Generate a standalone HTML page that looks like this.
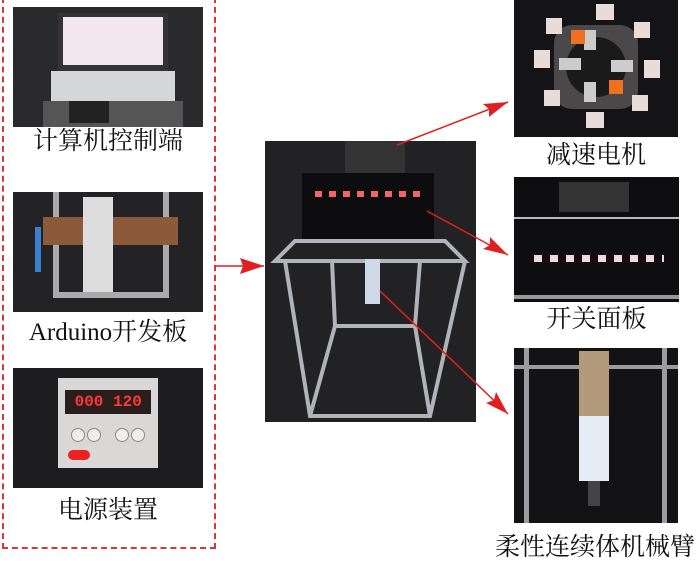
<!DOCTYPE html>
<html><head><meta charset="utf-8"><style>
body{margin:0;width:700px;height:560px;background:#fff;position:relative;overflow:hidden;font-family:"Liberation Serif","Noto Serif CJK SC",serif}
.p{position:absolute;background:#1c1b1e;overflow:hidden}
.l{position:absolute;font-size:25px;color:#111;text-align:center;line-height:1;white-space:nowrap}
</style></head><body>
<div style="position:absolute;left:2px;top:-3px;width:210px;height:548px;border:2px dashed #d8363a"></div>

<div class="p" style="left:13px;top:7px;width:190px;height:120px;background:#2a292c">
 <div style="position:absolute;left:45px;top:6px;width:110px;height:58px;background:#333;"></div>
 <div style="position:absolute;left:50px;top:10px;width:100px;height:48px;background:#f3e6ee"></div>
 <div style="position:absolute;left:38px;top:64px;width:124px;height:30px;background:#d5d6d8"></div>
 <div style="position:absolute;left:30px;top:94px;width:140px;height:26px;background:#555"></div>
 <div style="position:absolute;left:56px;top:94px;width:40px;height:22px;background:#222"></div>
</div>
<div class="l" style="left:13px;top:129px;width:190px">计算机控制端</div>

<div class="p" style="left:13px;top:192px;width:190px;height:120px;background:#232224">
 <div style="position:absolute;left:40px;top:0;width:6px;height:105px;background:#aaa"></div>
 <div style="position:absolute;left:150px;top:0;width:6px;height:105px;background:#aaa"></div>
 <div style="position:absolute;left:40px;top:100px;width:116px;height:6px;background:#aaa"></div>
 <div style="position:absolute;left:30px;top:25px;width:135px;height:28px;background:#8a5a3a"></div>
 <div style="position:absolute;left:70px;top:5px;width:30px;height:95px;background:#ddd"></div>
 <div style="position:absolute;left:22px;top:35px;width:6px;height:45px;background:#3b7fd0"></div>
</div>
<div class="l" style="left:13px;top:320px;width:190px">Arduino开发板</div>

<div class="p" style="left:13px;top:368px;width:190px;height:120px;background:#1d1c1f">
 <div style="position:absolute;left:45px;top:10px;width:100px;height:90px;background:#d9d8d6"></div>
 <div style="position:absolute;left:52px;top:22px;width:86px;height:24px;background:#2a1d1e;color:#ff3a30;font:bold 16px 'Liberation Mono',monospace;line-height:24px">&nbsp;000 120</div>
 <div style="position:absolute;left:58px;top:60px;width:12px;height:12px;border-radius:50%;background:#eee;border:1px solid #888"></div>
 <div style="position:absolute;left:74px;top:60px;width:12px;height:12px;border-radius:50%;background:#eee;border:1px solid #888"></div>
 <div style="position:absolute;left:102px;top:60px;width:12px;height:12px;border-radius:50%;background:#eee;border:1px solid #888"></div>
 <div style="position:absolute;left:118px;top:60px;width:12px;height:12px;border-radius:50%;background:#eee;border:1px solid #888"></div>
 <div style="position:absolute;left:55px;top:82px;width:22px;height:10px;border-radius:5px;background:#e22"></div>
</div>
<div class="l" style="left:13px;top:498px;width:190px">电源装置</div>

<div class="p" style="left:265px;top:141px;width:211px;height:281px;background:#222124">
 <div style="position:absolute;left:37px;top:32px;width:132px;height:66px;background:#0d0d0f"></div>
 <div style="position:absolute;left:80px;top:0;width:60px;height:32px;background:#333"></div>
 <div style="position:absolute;left:50px;top:50px;width:110px;height:6px;background:repeating-linear-gradient(90deg,#e66 0 7px,transparent 7px 14px)"></div>
 <svg width="211" height="281" style="position:absolute;left:0;top:0" fill="none" stroke="#b0b3b8" stroke-width="4">
  <path d="M10 120 L200 120 L180 100 L30 100 Z"/>
  <path d="M20 120 L45 275 L165 275 L200 120"/>
  <path d="M67 120 L70 185 L150 185 L155 120"/>
  <path d="M45 275 L70 185 M165 275 L150 185"/>
 </svg>
 <div style="position:absolute;left:100px;top:118px;width:15px;height:45px;background:#cfd8e6"></div>
</div>

<div class="p" style="left:514px;top:0;width:164px;height:137px;background:#141416">
 <div style="position:absolute;left:40px;top:25px;width:84px;height:84px;background:#4a4848;border-radius:18px"></div>
 <div style="position:absolute;left:52px;top:37px;width:60px;height:60px;background:#1a1a1a;border-radius:50%"></div>
 <div style="position:absolute;left:70px;top:30px;width:12px;height:20px;background:#ccc"></div>
 <div style="position:absolute;left:70px;top:82px;width:12px;height:20px;background:#ccc"></div>
 <div style="position:absolute;left:45px;top:58px;width:22px;height:12px;background:#ccc"></div>
 <div style="position:absolute;left:97px;top:60px;width:22px;height:12px;background:#ccc"></div>
 <div style="position:absolute;left:57px;top:30px;width:14px;height:14px;background:#f07020"></div>
 <div style="position:absolute;left:95px;top:80px;width:14px;height:14px;background:#f07020"></div>
 <div style="position:absolute;left:82px;top:4px;width:18px;height:16px;background:#e8dcd8"></div>
 <div style="position:absolute;left:20px;top:50px;width:16px;height:18px;background:#e8dcd8"></div>
 <div style="position:absolute;left:130px;top:60px;width:16px;height:18px;background:#e8dcd8"></div>
 <div style="position:absolute;left:32px;top:18px;width:16px;height:16px;background:#e8dcd8"></div>
 <div style="position:absolute;left:120px;top:22px;width:16px;height:16px;background:#e8dcd8"></div>
 <div style="position:absolute;left:30px;top:90px;width:16px;height:16px;background:#e8dcd8"></div>
 <div style="position:absolute;left:118px;top:95px;width:16px;height:16px;background:#e8dcd8"></div>
 <div style="position:absolute;left:72px;top:112px;width:18px;height:16px;background:#e8dcd8"></div>
</div>
<div class="l" style="left:514px;top:143px;width:164px">减速电机</div>

<div class="p" style="left:514px;top:177px;width:165px;height:125px;background:#0e0e10">
 <div style="position:absolute;left:45px;top:5px;width:70px;height:30px;background:#333"></div>
 <div style="position:absolute;left:0;top:40px;width:165px;height:2px;background:#bbb"></div>
 <div style="position:absolute;left:20px;top:78px;width:130px;height:7px;background:repeating-linear-gradient(90deg,#f3dada 0 8px,transparent 8px 16px)"></div>
 <div style="position:absolute;left:0;top:118px;width:165px;height:4px;background:#999"></div>
</div>
<div class="l" style="left:514px;top:307px;width:165px">开关面板</div>

<div class="p" style="left:514px;top:348px;width:164px;height:175px;background:#131315">
 <div style="position:absolute;left:10px;top:0;width:5px;height:175px;background:#9a9ca0"></div>
 <div style="position:absolute;left:148px;top:0;width:5px;height:175px;background:#9a9ca0"></div>
 <div style="position:absolute;left:0;top:17px;width:164px;height:4px;background:#9a9ca0"></div>
 <div style="position:absolute;left:65px;top:3px;width:30px;height:65px;background:#b39a7a"></div>
 <div style="position:absolute;left:65px;top:68px;width:30px;height:65px;background:#e6ecf6"></div>
 <div style="position:absolute;left:74px;top:133px;width:12px;height:25px;background:#444"></div>
</div>
<div class="l" style="left:490px;top:535px;width:210px">柔性连续体机械臂</div>

<svg width="700" height="560" style="position:absolute;left:0;top:0">
 <defs><marker id="a" markerWidth="10" markerHeight="8" refX="9" refY="4" orient="auto" markerUnits="userSpaceOnUse" viewBox="0 0 10 8"><path d="M0 0 L10 4 L0 8 Z" fill="#e02020"/></marker></defs>
 <g stroke="#e02020" stroke-width="1.5" marker-end="url(#a)">
  <line x1="214" y1="266" x2="264" y2="266" style="marker-end:none"/>
  <line x1="397" y1="145" x2="508" y2="102" style="marker-end:none"/>
  <line x1="427" y1="211" x2="508" y2="255" style="marker-end:none"/>
  <line x1="380" y1="291" x2="508" y2="414" style="marker-end:none"/>
 </g>
 <g fill="#e02020">
  <path d="M264 266 L240 258 L243 266 L240 274 Z"/>
  <path d="M508 102 L483 104 L489 109 L489 117 Z"/>
  <path d="M508 255 L490 237 L490 245 L483 249 Z"/>
  <path d="M508 414 L496 392 L494 400 L486 403 Z"/>
 </g>
</svg>
</body></html>
